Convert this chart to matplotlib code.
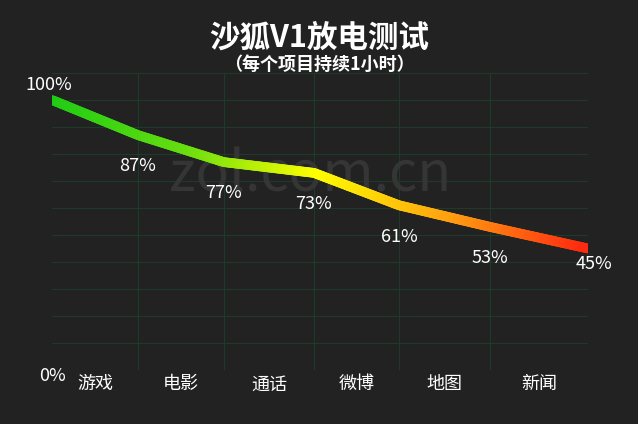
import numpy as np
import matplotlib
matplotlib.use('Agg')
import matplotlib.pyplot as plt
from matplotlib.collections import LineCollection
from matplotlib.colors import LinearSegmentedColormap

plt.rcParams['font.family'] = ['Noto Sans CJK SC', 'DejaVu Sans']

categories = ['游戏', '电影', '通话', '微博', '地图', '新闻']
values = [100, 87, 77, 73, 61, 53, 45]
labels = ['100%', '87%', '77%', '73%', '61%', '53%', '45%']
xpos = [0, 1, 2, 3.05, 4.04, 5.1, 6.24]

bg = '#222222'
fig = plt.figure(figsize=(6.38, 4.24), dpi=100, facecolor=bg)
ax = fig.add_axes([52/638, 1-370/424, 536/638, (370-73)/424], facecolor=bg)
ax.set_xlim(0, 6.24)
ax.set_ylim(0, 110)

for y in range(10, 111, 10):
    ax.axhline(y, color='#1f3a28', lw=0.8, zorder=0)
for x in xpos[1:-1]:
    ax.axvline(x, color='#1f3a28', lw=0.8, zorder=0)
for s in ax.spines.values():
    s.set_visible(False)
ax.set_xticks([])
ax.set_yticks([])

# smooth the drawn stroke between the read points
xs = np.linspace(xpos[0], xpos[-1], 300)
ys = np.interp(xs, xpos, values)
pts = np.array([xs, ys]).T.reshape(-1, 1, 2)
segs = np.concatenate([pts[:-1], pts[1:]], axis=1)
cmap = LinearSegmentedColormap.from_list('g', ['#1ecc14', '#66dd10', '#ffff00', '#ffa010', '#ff2a10'])
lc = LineCollection(segs, cmap=cmap, linewidth=7, capstyle='round', zorder=3)
lc.set_array(np.linspace(0, 1, len(segs)))
ax.add_collection(lc)

ax.text(3.0, 72, 'zol.com.cn', color='#353535', fontsize=40, ha='center', va='center', zorder=1)

for i, (x, v, t) in enumerate(zip(xpos, values, labels)):
    if i == 0:
        ax.annotate(t, (x, v), xytext=(-2, 4), textcoords='offset points', ha='center', va='bottom',
                    color='white', fontsize=13, annotation_clip=False)
    elif i == len(values) - 1:
        ax.annotate(t, (x, v), xytext=(4, -5), textcoords='offset points', ha='center', va='top',
                    color='white', fontsize=13, annotation_clip=False)
    else:
        ax.annotate(t, (x, v), xytext=(0, -16), textcoords='offset points', ha='center', va='top',
                    color='white', fontsize=13)

ax.annotate('0%', (0, 0), xytext=(0, 2), textcoords='offset points', ha='center', va='top',
            color='white', fontsize=13, annotation_clip=False)
for i, c in enumerate(categories):
    ax.text((xpos[i] + xpos[i+1]) / 2, -2, c, ha='center', va='top', color='white', fontsize=13)

fig.text(0.5, 1-38/424, '沙狐V1放电测试', ha='center', va='center', color='white', fontsize=22, fontweight='bold')
fig.text(0.5, 1-64/424, '（每个项目持续1小时）', ha='center', va='center', color='white', fontsize=13, fontweight='bold')

fig.savefig('out.png', dpi=100, facecolor=bg)
